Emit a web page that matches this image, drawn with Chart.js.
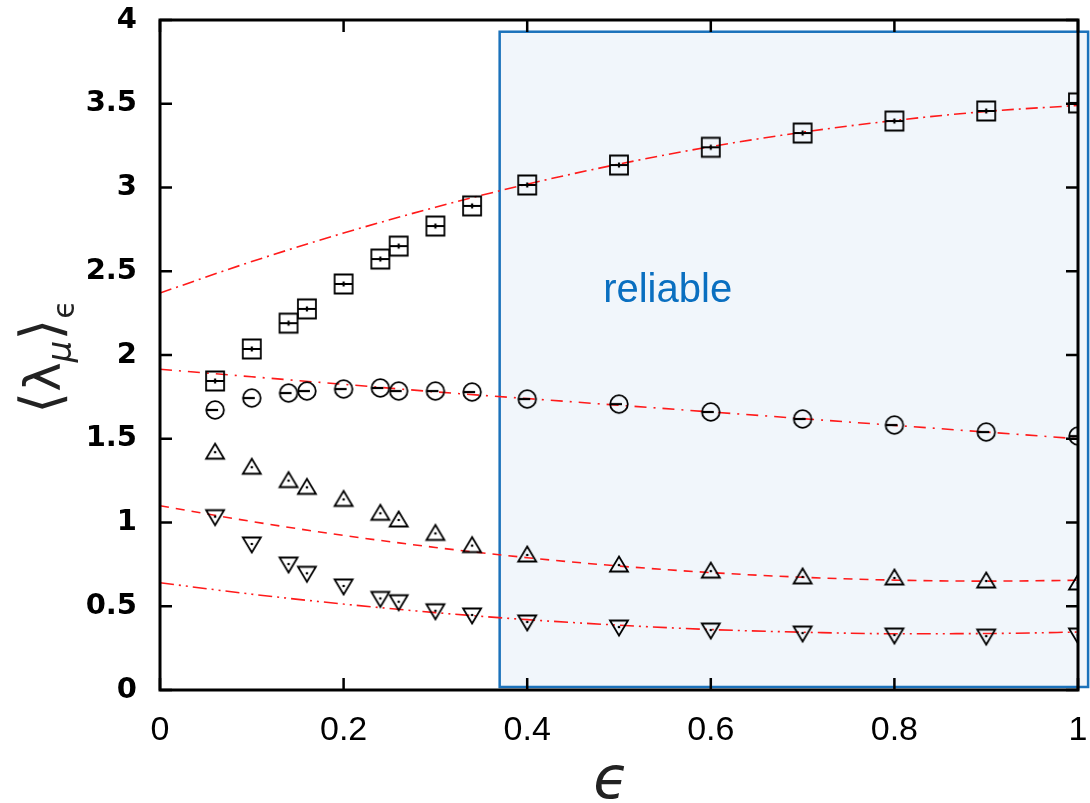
<!DOCTYPE html>
<html>
<head>
<meta charset="utf-8">
<script src="https://cdn.jsdelivr.net/npm/chart.js@4.4.0/dist/chart.umd.min.js"></script>
<style>
  html, body { margin: 0; padding: 0; background: #fff; }
  #chart { display: block; }
</style>
</head>
<body>
<canvas id="chart" width="1090" height="803"></canvas>
<script>
// measured points (epsilon on x)
const epsValues = [0.06, 0.1, 0.14, 0.16, 0.2, 0.24, 0.26, 0.3, 0.34, 0.4, 0.5, 0.6, 0.7, 0.8, 0.9, 1.0];
const squareVals = [1.845, 2.036, 2.19, 2.275, 2.424, 2.573, 2.65, 2.77, 2.89, 3.015, 3.134, 3.24, 3.325, 3.397, 3.457, 3.505];
const circleVals = [1.672, 1.743, 1.773, 1.785, 1.797, 1.803, 1.785, 1.785, 1.779, 1.737, 1.707, 1.66, 1.618, 1.582, 1.54, 1.516];
const upTriVals = [1.42, 1.33, 1.25, 1.21, 1.138, 1.055, 1.015, 0.935, 0.862, 0.806, 0.746, 0.71, 0.675, 0.669, 0.651, 0.639];
const downTriVals = [1.035, 0.872, 0.752, 0.697, 0.621, 0.547, 0.527, 0.473, 0.448, 0.406, 0.376, 0.358, 0.34, 0.328, 0.322, 0.328];

// fitted curves
const fitX = [0, 0.1, 0.2, 0.3, 0.4, 0.5, 0.6, 0.7, 0.8, 0.9, 1.0];
const fitSquare = [2.37, 2.558, 2.728, 2.882, 3.02, 3.14, 3.244, 3.33, 3.40, 3.454, 3.49];
const fitCircle = [1.915, 1.87, 1.825, 1.78, 1.74, 1.70, 1.66, 1.62, 1.58, 1.54, 1.50];
const fitUpTri = [1.10, 1.006, 0.923, 0.851, 0.79, 0.74, 0.701, 0.673, 0.656, 0.65, 0.655];
const fitDownTri = [0.64, 0.572, 0.513, 0.462, 0.42, 0.387, 0.361, 0.345, 0.336, 0.337, 0.346];

const xTicks = [0, 0.2, 0.4, 0.6, 0.8, 1];
const yTicks = [0, 0.5, 1, 1.5, 2, 2.5, 3, 3.5, 4];

// "reliable" region
const reliableX = [0.37, 1.011];
const reliableY = [0.018, 3.93];
const reliableLabel = 'reliable';
const reliableAt = [0.553, 2.316];

const pts = (xs, ys) => xs.map((x, i) => ({ x: x, y: ys[i] }));

function makeMarker(shape) {
    const s = 28;
    const c = document.createElement('canvas');
    c.width = s; c.height = s;
    const g = c.getContext('2d');
    const m = s / 2;
    g.strokeStyle = '#000';
    g.lineWidth = 1.8;
    g.beginPath();
    if (shape === 'square') {
        g.rect(m - 9, m - 9.5, 18, 19);
    } else if (shape === 'circle') {
        g.arc(m, m, 8.8, 0, Math.PI * 2);
    } else if (shape === 'up') {
        g.moveTo(m, m - 8.5); g.lineTo(m + 9, m + 6.5); g.lineTo(m - 9, m + 6.5); g.closePath();
    } else {
        g.moveTo(m, m + 8.5); g.lineTo(m + 9, m - 6.5); g.lineTo(m - 9, m - 6.5); g.closePath();
    }
    g.stroke();
    // small error bar inside the marker
    g.lineWidth = 2.2;
    g.beginPath();
    if (shape === 'square') {
        g.moveTo(m - 9, m); g.lineTo(m + 9, m);
        g.moveTo(m, m - 2.5); g.lineTo(m, m + 2.5);
    } else if (shape === 'circle') {
        g.moveTo(m - 8, m); g.lineTo(m + 3, m);
    } else {
        g.moveTo(m - 1.2, m); g.lineTo(m + 1.2, m);
    }
    g.stroke();
    return c;
}

const markerDs = (vals, shape) => ({
    data: pts(epsValues, vals),
    showLine: false,
    pointStyle: makeMarker(shape),
    pointRadius: 9,
    pointHoverRadius: 9
});

const fitDs = (vals, dash) => ({
    data: pts(fitX, vals),
    showLine: true,
    borderColor: '#ff1a1a',
    borderWidth: 1.6,
    borderDash: dash,
    pointRadius: 0,
    tension: 0.4,
    cubicInterpolationMode: 'monotone',
    fill: false
});

const regionPlugin = {
    id: 'region',
    beforeDatasetsDraw(chart) {
        const { ctx, scales: { x, y } } = chart;
        const x1 = x.getPixelForValue(reliableX[0]);
        const x2 = x.getPixelForValue(reliableX[1]);
        const y1 = y.getPixelForValue(reliableY[1]);
        const y2 = y.getPixelForValue(reliableY[0]);
        ctx.save();
        ctx.fillStyle = '#f1f6fb';
        ctx.fillRect(x1, y1, x2 - x1, y2 - y1);
        ctx.strokeStyle = '#1b72bb';
        ctx.lineWidth = 2.5;
        ctx.strokeRect(x1, y1, x2 - x1, y2 - y1);
        ctx.fillStyle = '#0a6fc0';
        ctx.font = '40px "Liberation Sans", Arial, sans-serif';
        ctx.textAlign = 'center';
        ctx.textBaseline = 'alphabetic';
        ctx.fillText(reliableLabel, x.getPixelForValue(reliableAt[0]), y.getPixelForValue(reliableAt[1]));
        ctx.restore();
    }
};

const framePlugin = {
    id: 'frame',
    afterDatasetsDraw(chart) {
        const { ctx, chartArea: a, scales: { x, y } } = chart;
        const tl = 12;
        ctx.save();
        ctx.strokeStyle = '#000';
        ctx.lineWidth = 2.5;
        ctx.beginPath();
        xTicks.forEach(v => {
            const px = x.getPixelForValue(v);
            ctx.moveTo(px, a.bottom); ctx.lineTo(px, a.bottom - tl);
            ctx.moveTo(px, a.top); ctx.lineTo(px, a.top + tl);
        });
        yTicks.forEach(v => {
            const py = y.getPixelForValue(v);
            ctx.moveTo(a.left, py); ctx.lineTo(a.left + tl, py);
            ctx.moveTo(a.right, py); ctx.lineTo(a.right - tl, py);
        });
        ctx.stroke();
        ctx.lineWidth = 3;
        ctx.strokeRect(a.left, a.top, a.right - a.left, a.bottom - a.top);
        ctx.restore();
    }
};

const titlePlugin = {
    id: 'titles',
    afterDraw(chart) {
        const { ctx, chartArea: a } = chart;
        ctx.save();
        ctx.fillStyle = '#222';
        ctx.textAlign = 'center';
        ctx.textBaseline = 'alphabetic';
        ctx.font = 'italic 58px "DejaVu Sans", sans-serif';
        ctx.fillText('ϵ', (a.left + a.right) / 2 - 8, 798);

        // y title: <lambda_mu>_eps, baseline runs vertically at x = 60
        const parts = [
            { t: '⟨', f: '56px "DejaVu Sans", sans-serif', dy: 0 },
            { t: 'λ', f: '50px "DejaVu Sans", sans-serif', dy: 0 },
            { t: 'μ', f: 'italic 34px "DejaVu Sans", sans-serif', dy: 11 },
            { t: '⟩', f: '56px "DejaVu Sans", sans-serif', dy: 0 },
            { t: 'ϵ', f: '30px "DejaVu Sans", sans-serif', dy: 14 }
        ];
        let total = 0;
        parts.forEach(p => { ctx.font = p.f; p.w = ctx.measureText(p.t).width; total += p.w; });
        ctx.translate(60, (a.top + a.bottom) / 2 + 2);
        ctx.rotate(-Math.PI / 2);
        ctx.textAlign = 'left';
        let cx = -total / 2;
        parts.forEach(p => {
            ctx.font = p.f;
            ctx.fillText(p.t, cx, p.dy);
            cx += p.w;
        });
        ctx.restore();
    }
};

new Chart(document.getElementById('chart'), {
    type: 'scatter',
    data: {
        datasets: [
            markerDs(squareVals, 'square'),
            markerDs(circleVals, 'circle'),
            markerDs(upTriVals, 'up'),
            markerDs(downTriVals, 'down'),
            fitDs(fitSquare, [12, 5, 2, 5]),
            fitDs(fitCircle, [12, 7, 2, 7]),
            fitDs(fitUpTri, [9, 7]),
            fitDs(fitDownTri, [14, 5, 2, 5, 2, 5])
        ]
    },
    options: {
        responsive: false,
        animation: false,
        events: [],
        layout: { padding: { top: 20, right: 12, left: 0, bottom: 0 } },
        plugins: { legend: { display: false }, tooltip: { enabled: false } },
        scales: {
            x: {
                type: 'linear',
                min: 0, max: 1,
                afterBuildTicks: s => { s.ticks = xTicks.map(v => ({ value: v })); },
                afterFit: s => { s.height = 113; s.paddingLeft = 0; s.paddingRight = 0; },
                grid: { display: false, drawTicks: false },
                border: { display: false },
                ticks: {
                    autoSkip: false,
                    maxRotation: 0,
                    padding: 20,
                    color: '#000',
                    font: { family: '"Liberation Sans", Arial, sans-serif', size: 34 },
                    callback: v => String(v)
                }
            },
            y: {
                type: 'linear',
                min: 0, max: 4,
                afterBuildTicks: s => { s.ticks = yTicks.map(v => ({ value: v })); },
                afterFit: s => { s.width = 160; s.paddingTop = 0; s.paddingBottom = 0; },
                grid: { display: false, drawTicks: false },
                border: { display: false },
                ticks: {
                    autoSkip: false,
                    padding: 23,
                    color: '#000',
                    font: { family: '"DejaVu Sans", sans-serif', size: 29, weight: 'bold' },
                    callback: v => String(v)
                }
            }
        }
    },
    plugins: [regionPlugin, framePlugin, titlePlugin]
});
</script>
</body>
</html>
